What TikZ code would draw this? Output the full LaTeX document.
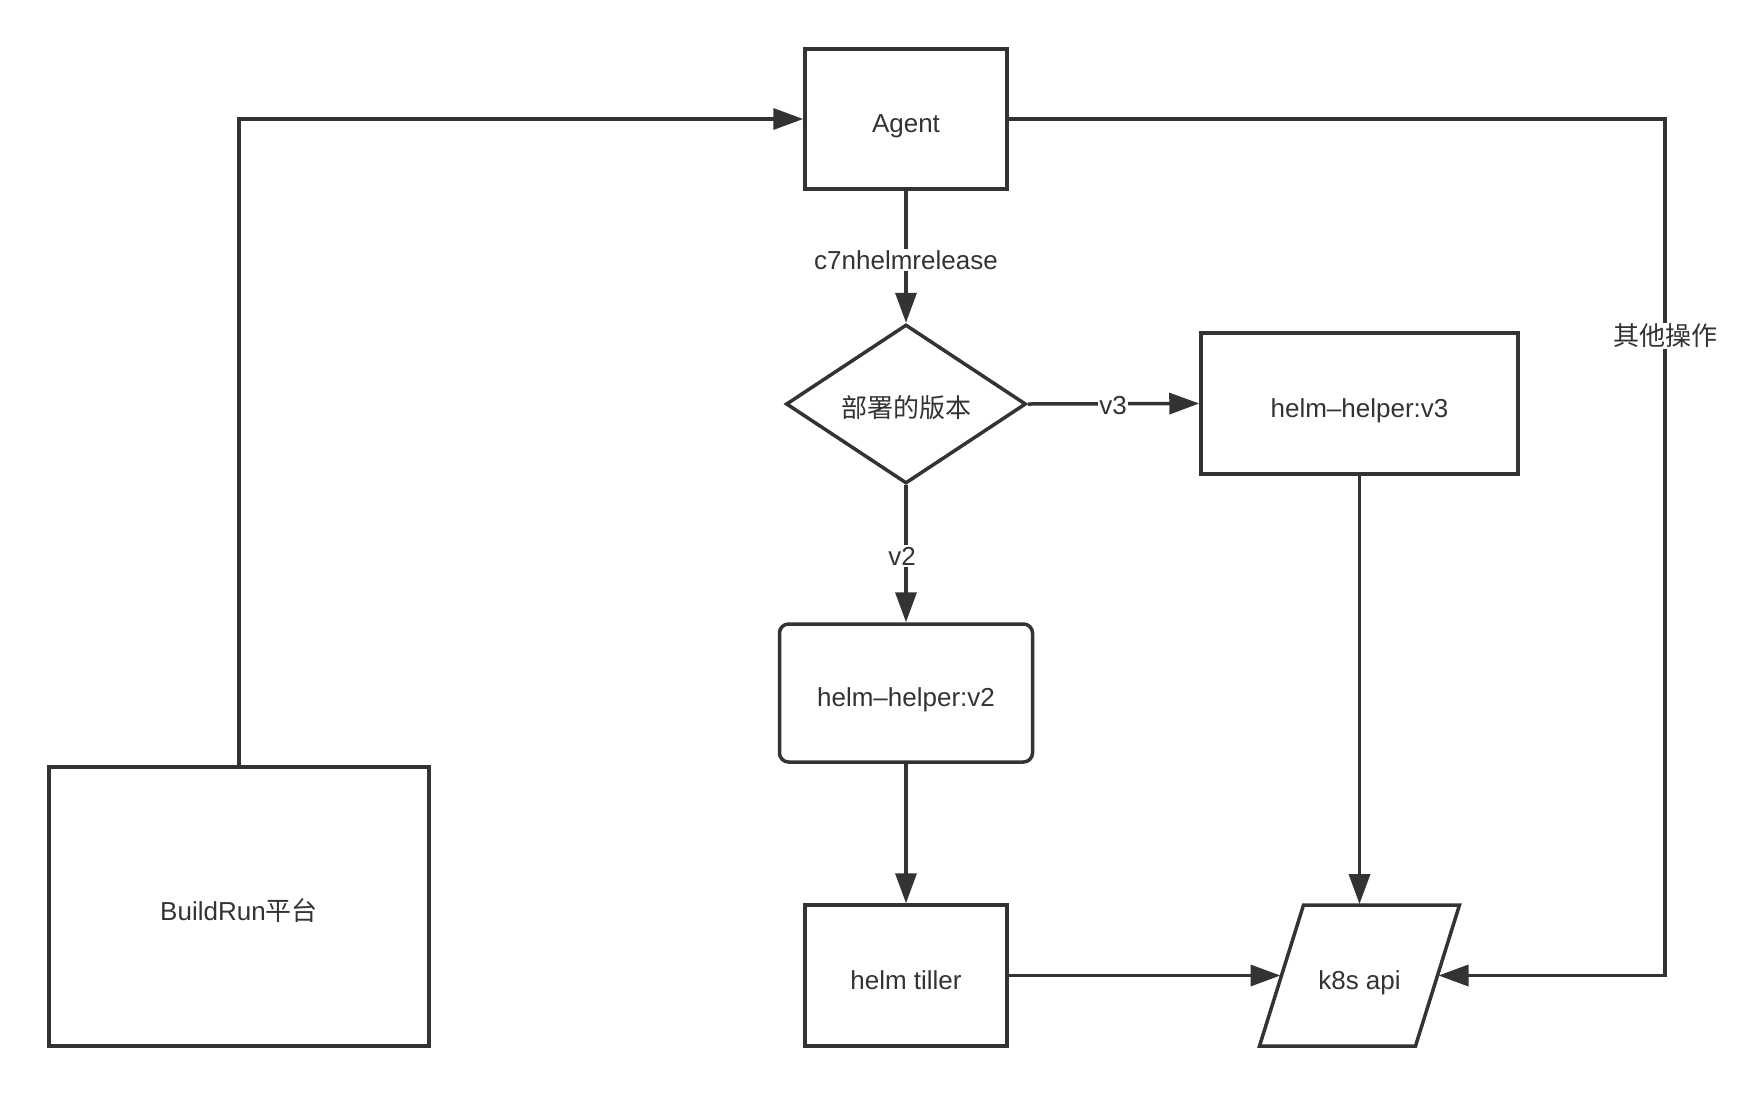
\documentclass[tikz,border=0pt]{standalone}
\usepackage{fontspec}
\setmainfont{Liberation Sans}
\newfontfamily\cjk{Noto Sans CJK SC}
\usetikzlibrary{arrows.meta,shapes.geometric}
\definecolor{ink}{HTML}{333333}
\begin{document}
\begin{tikzpicture}[x=1pt,y=-1pt,
  every node/.style={text=ink, font=\fontsize{26}{30}\selectfont},
  tx/.style={text height=27pt, text depth=0pt},
  box/.style={draw=ink, line width=3.5pt, fill=white, inner sep=0pt, tx},
  dia/.style={draw=ink, line width=3.5pt, fill=white, shape=diamond, inner sep=0pt, minimum width=240pt, minimum height=159pt, tx},
  conn/.style={draw=ink, line width=3.5pt, -{Triangle[length=30pt,width=21pt]}},
  lbl/.style={fill=white, inner sep=1.5pt},
  shp/.style={draw=ink, line width=3.5pt, fill=white}
]
\useasboundingbox (0,0) rectangle (1746,1096);

% nodes
\node[box, minimum width=202pt, minimum height=140pt] (agent) at (906,119) {Agent};
\node[box, minimum width=380pt, minimum height=279pt] (build) at (239,906.5) {BuildRun{\cjk 平台}};
\node[dia] (ver) at (906,404) {{\cjk 部署的版本}};
\node[box, minimum width=317pt, minimum height=141pt] (hv3) at (1359.5,403.5) {helm–helper:v3};
\node[box, rounded corners=9pt, minimum width=253pt, minimum height=138pt] (hv2) at (906,693) {helm–helper:v2};
\node[box, minimum width=202pt, minimum height=141pt] (tiller) at (906,975.5) {helm tiller};

% k8s api parallelogram
\draw[shp] (1303.5,905) -- (1459.5,905) -- (1415.5,1046) -- (1259.5,1046) -- cycle;
\node[tx] (k8s) at (1359.5,975.5) {k8s api};
\coordinate (k8sW) at (1280.5,975.5);
\coordinate (k8sE) at (1438.5,975.5);
\coordinate (k8sN) at (1359.5,904);
\coordinate (rx) at (1665,119);

% connectors
\draw[conn] (build.north) |- (agent.west);
\draw[conn] (agent.south) -- (ver.north);
\draw[conn] (ver.east) -- (hv3.west);
\draw[conn] (ver.south) -- (hv2.north);
\draw[conn] (hv2.south) -- (tiller.north);
\draw[conn] (tiller.east) -- (k8sW);
\draw[conn] (hv3.south) -- (k8sN);
\draw[conn] (agent.east) -- (rx) |- (k8sE);

% labels
\node[lbl] (l1) at (906,260) {c7nhelmrelease};
\node[lbl] (l2) at (1113,406) {v3};
\node[lbl] (l3) at (902,556) {v2};
\node[lbl] (l4) at (1665,336) {{\cjk 其他操作}};
\end{tikzpicture}
\end{document}
